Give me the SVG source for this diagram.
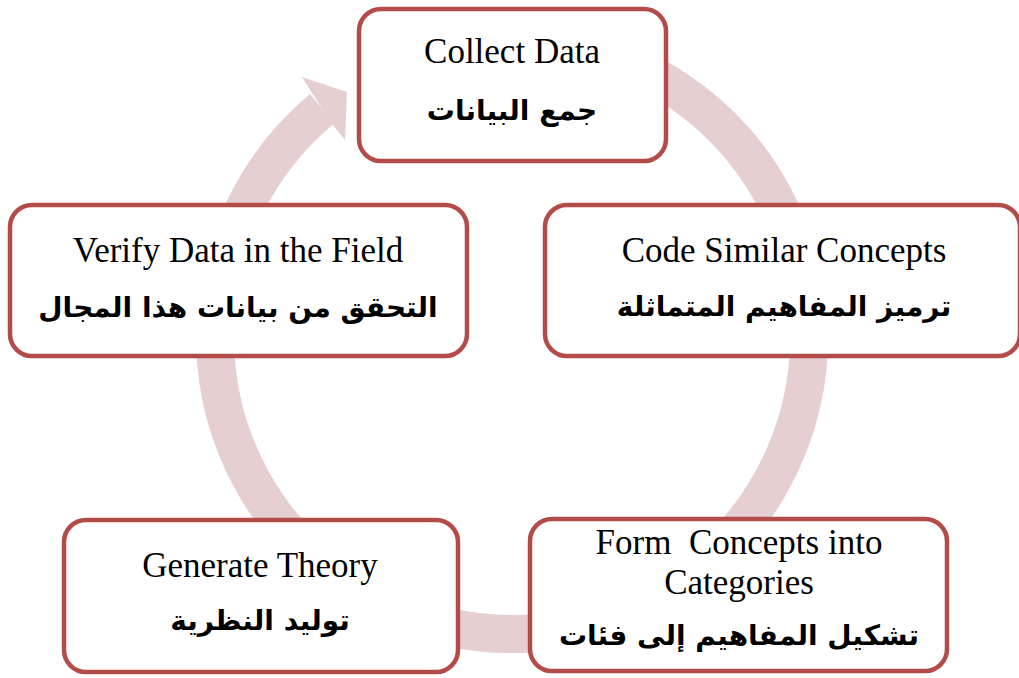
<svg xmlns="http://www.w3.org/2000/svg" width="1019" height="678" viewBox="0 0 1019 678">
<style>
.box{fill:#ffffff;stroke:#B34B48;stroke-width:4.5}
.en{font-family:"Liberation Serif","Times New Roman",serif;font-size:35px;fill:#000;text-anchor:middle}
.ar{font-family:"DejaVu Sans",sans-serif;font-weight:bold;font-size:28px;fill:#000;text-anchor:middle;direction:rtl}
.ring{fill:none;stroke:#E6CFD0;stroke-width:38}
</style>
<rect width="1019" height="678" fill="#ffffff"/>
<g id="connectors">
<path class="ring" d="M563.6,44.5 A297,297 0 1 1 322.2,108.6"/>
<polygon points="312,93 302,77 347,92 345,140 333,125" fill="#E6CFD0"/>
</g>
<g id="node-collect">
<rect class="box" x="359" y="9" width="307" height="152" rx="22"/>
<text class="en" x="512" y="63">Collect Data</text>
<text class="ar" x="512" y="120">جمع البيانات</text>
</g>
<g id="node-code">
<rect class="box" x="545" y="205" width="475" height="151" rx="22"/>
<text class="en" x="784" y="262">Code Similar Concepts</text>
<text class="ar" x="784" y="316">ترميز المفاهيم المتماثلة</text>
</g>
<g id="node-verify">
<rect class="box" x="10" y="205" width="457" height="151" rx="22"/>
<text class="en" x="238" y="262">Verify Data in the Field</text>
<text class="ar" x="238" y="317">التحقق من بيانات هذا المجال</text>
</g>
<g id="node-form">
<rect class="box" x="530" y="519" width="417" height="152" rx="22"/>
<text class="en" x="739" y="554" xml:space="preserve">Form  Concepts into</text>
<text class="en" x="739" y="594">Categories</text>
<text class="ar" x="739" y="645">تشكيل المفاهيم إلى فئات</text>
</g>
<g id="node-theory">
<rect class="box" x="64" y="520" width="394" height="152" rx="22"/>
<text class="en" x="260" y="577">Generate Theory</text>
<text class="ar" x="260" y="630">توليد النظرية</text>
</g>
</svg>
